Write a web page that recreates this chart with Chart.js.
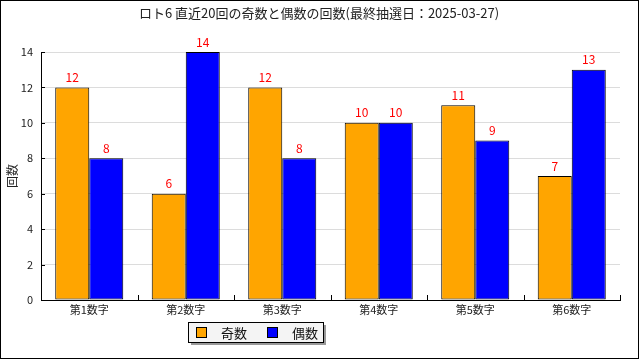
<!DOCTYPE html>
<html>
<head>
<meta charset="utf-8">
<script src="https://cdn.jsdelivr.net/npm/chart.js@4"></script>
<style>
  body { margin: 0; background: #fff; }
  canvas { display: block; }
</style>
</head>
<body>
<canvas id="myChart" width="640" height="360"></canvas>
<script>
var titleText = 'ロト6 直近20回の奇数と偶数の回数(最終抽選日：2025-03-27)';
var categories = ['第1数字', '第2数字', '第3数字', '第4数字', '第5数字', '第6数字'];
var oddCounts = [12, 6, 12, 10, 11, 7];
var evenCounts = [8, 14, 8, 10, 9, 13];
var seriesNames = ['奇数', '偶数'];

var FONT = '"Noto Sans CJK JP", "DejaVu Sans", sans-serif';

// frame, title, inner ticks, value labels and legend box
var decorations = {
	id: 'decorations',
	afterDraw: function(chart) {
		var c = chart.ctx;
		var area = chart.chartArea;
		c.save();

		c.strokeStyle = '#000';
		c.lineWidth = 1;
		c.strokeRect(0.5, 0.5, 638, 358);

		c.fillStyle = '#222';
		c.font = '13px ' + FONT;
		c.textAlign = 'center';
		c.textBaseline = 'middle';
		c.fillText(titleText, 319, 13);

		// ticks pointing into the plot
		var yScale = chart.scales.y;
		c.beginPath();
		yScale.ticks.forEach(function(t, i) {
			var y = Math.round(yScale.getPixelForTick(i)) + 0.5;
			c.moveTo(area.left, y);
			c.lineTo(area.left + 4, y);
		});
		for (var i = 0; i <= categories.length; i++) {
			var x = Math.round(area.left + (area.right - area.left) * i / categories.length) + 0.5;
			c.moveTo(x, area.bottom);
			c.lineTo(x, area.bottom - 5);
		}
		c.stroke();

		// value labels
		c.fillStyle = '#ff0000';
		c.font = '12px ' + FONT;
		c.textBaseline = 'bottom';
		chart.data.datasets.forEach(function(ds, di) {
			chart.getDatasetMeta(di).data.forEach(function(bar, j) {
				c.fillText(String(ds.data[j]), bar.x, bar.y - 4);
			});
		});

		// legend
		var lx = 188, ly = 322, lw = 135, lh = 20;
		c.fillStyle = '#999';
		c.fillRect(lx + 3, ly + 3, lw, lh);
		c.fillStyle = '#f4f4f4';
		c.fillRect(lx, ly, lw, lh);
		c.strokeStyle = '#000';
		c.strokeRect(lx + 0.5, ly + 0.5, lw, lh);
		c.font = '13px ' + FONT;
		c.textAlign = 'left';
		c.textBaseline = 'middle';
		chart.data.datasets.forEach(function(ds, di) {
			var bx = lx + 8 + di * 71;
			c.fillStyle = ds.backgroundColor;
			c.fillRect(bx + 0.5, ly + 5.5, 10, 10);
			c.strokeStyle = '#000';
			c.strokeRect(bx + 0.5, ly + 5.5, 10, 10);
			c.fillStyle = '#111';
			c.fillText(ds.label, bx + 25, ly + 11);
		});

		c.restore();
	}
};

var ctx = document.getElementById('myChart');

var myChart = new Chart(ctx, {
	type: 'bar',
	data: {
		labels: categories,
		datasets: [{
			label: seriesNames[0],
			data: oddCounts,
			backgroundColor: '#ffa500',
			borderColor: '#000',
			borderWidth: 1,
			borderSkipped: false
		}, {
			label: seriesNames[1],
			data: evenCounts,
			backgroundColor: '#0000ff',
			borderColor: '#000',
			borderWidth: 1,
			borderSkipped: false
		}]
	},
	options: {
		responsive: false,
		animation: false,
		devicePixelRatio: 1,
		layout: {
			padding: { left: 0, right: 20, top: 52, bottom: 0 }
		},
		plugins: {
			legend: { display: false },
			title: { display: false },
			tooltip: { enabled: false }
		},
		datasets: {
			bar: { categoryPercentage: 0.705, barPercentage: 1.0 }
		},
		scales: {
			x: {
				afterFit: function(scale) { scale.height = 60; },
				grid: { display: false },
				border: { color: '#000', width: 1 },
				ticks: {
					color: '#222',
					font: { family: FONT, size: 11 },
					padding: -5
				}
			},
			y: {
				min: 0,
				max: 14,
				afterFit: function(scale) { scale.width = 41; },
				grid: { color: '#dcdcdc', tickLength: 0 },
				border: { color: '#000', width: 1 },
				ticks: {
					stepSize: 2,
					color: '#222',
					font: { family: FONT, size: 11 },
					padding: 8
				},
				title: {
					display: true,
					text: '回数',
					color: '#222',
					font: { family: FONT, size: 12 },
					padding: 5
				}
			}
		}
	},
	plugins: [decorations]
});
</script>
</body>
</html>
